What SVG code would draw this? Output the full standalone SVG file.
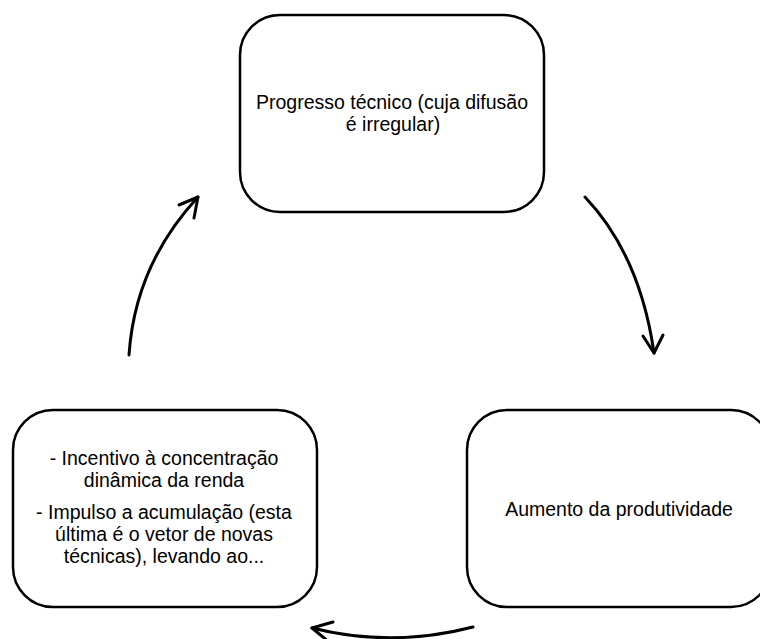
<svg xmlns="http://www.w3.org/2000/svg" width="760" height="639" viewBox="0 0 760 639">
  <style>
    .box { fill: #ffffff; stroke: #000000; stroke-width: 2.5; }
    .lbl { font-family: "Liberation Sans", Arial, sans-serif; font-size: 19.5px; fill: #000000; text-anchor: middle; }
    .conn { fill: none; stroke: #000000; stroke-width: 3; stroke-linecap: round; stroke-linejoin: round; }
  </style>
  <rect x="0" y="0" width="760" height="639" fill="#ffffff"/>
  <g id="node-progresso">
    <rect class="box" x="240" y="15" width="304" height="197" rx="40" ry="40"/>
    <text class="lbl" x="392" y="109">Progresso técnico (cuja difusão</text>
    <text class="lbl" x="393" y="131">é irregular)</text>
  </g>
  <g id="node-aumento">
    <rect class="box" x="467" y="410" width="304" height="197" rx="40" ry="40"/>
    <text class="lbl" x="619" y="516">Aumento da produtividade</text>
  </g>
  <g id="node-incentivo">
    <rect class="box" x="13" y="410" width="304" height="197" rx="40" ry="40"/>
    <text class="lbl" x="164" y="465">- Incentivo à concentração</text>
    <text class="lbl" x="164" y="487">dinâmica da renda</text>
    <text class="lbl" x="164" y="519">- Impulso a acumulação (esta</text>
    <text class="lbl" x="164" y="541">última é o vetor de novas</text>
    <text class="lbl" x="164" y="563">técnicas), levando ao...</text>
  </g>
  <g id="connectors">
    <path class="conn" d="M585,197 Q640,255 654,353"/>
    <polyline class="conn" points="643,336 654,353 663,335"/>
    <path class="conn" d="M473,627 Q392,648 312,628"/>
    <polyline class="conn" points="333,622 312,628 329,642"/>
    <path class="conn" d="M129,355 Q135,265 198,197"/>
    <polyline class="conn" points="179,205 198,197 194,218"/>
  </g>
</svg>
